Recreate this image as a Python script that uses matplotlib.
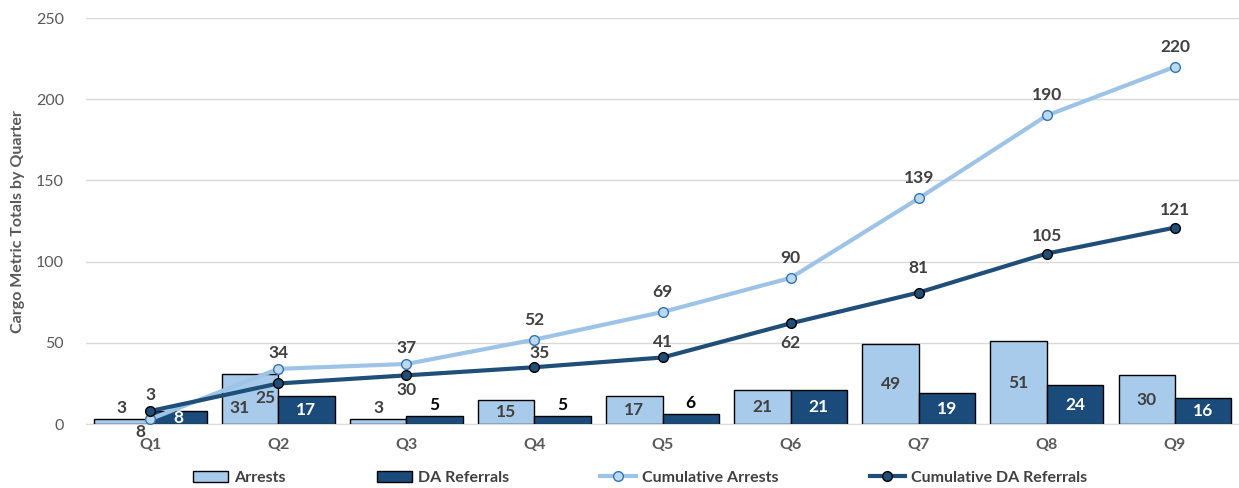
import matplotlib
matplotlib.use("Agg")
import matplotlib.pyplot as plt
import numpy as np

quarters = ["Q1", "Q2", "Q3", "Q4", "Q5", "Q6", "Q7", "Q8", "Q9"]
arrests = [3, 31, 3, 15, 17, 21, 49, 51, 30]
da_referrals = [8, 17, 5, 5, 6, 21, 19, 24, 16]
cum_arrests = [3, 34, 37, 52, 69, 90, 139, 190, 220]
cum_da = [8, 25, 30, 35, 41, 62, 81, 105, 121]

plt.rcParams['font.family'] = ['Lato', 'DejaVu Sans']

LIGHT = "#A9CBEB"
DARK = "#1B4B7B"
LINE_LIGHT = "#9DC3E6"
LINE_DARK = "#1F4E79"
GRAY = "#404040"
TICK = "#595959"

fig = plt.figure(figsize=(12.39, 4.88), dpi=100)
ax = fig.add_axes([0.0695, 0.131, 0.9305, 0.832])

x = np.arange(len(quarters))
w = 0.44
b1 = ax.bar(x - w/2, arrests, w, color=LIGHT, edgecolor="black", linewidth=1, zorder=2, label="Arrests")
b2 = ax.bar(x + w/2, da_referrals, w, color=DARK, edgecolor="black", linewidth=1, zorder=2, label="DA Referrals")

l1, = ax.plot(x, cum_arrests, color=LINE_LIGHT, lw=3, marker="o", ms=7,
              mfc="#BDD7EE", mec="#2E75B6", mew=1, zorder=3, label="Cumulative Arrests")
l2, = ax.plot(x, cum_da, color=LINE_DARK, lw=3, marker="o", ms=7,
              mfc=LINE_DARK, mec="black", mew=1, zorder=4, label="Cumulative DA Referrals")

fs = 12.5
# bar labels: arrests
for i, v in enumerate(arrests):
    if v < 8:
        ax.annotate(str(v), (x[i] - w/2, v), xytext=(0, 3), textcoords="offset pixels",
                    ha="center", va="bottom", fontsize=fs, fontweight="bold", color=GRAY, zorder=6)
    elif i == 1:
        ax.annotate(str(v), (x[i] - w/2, v / 2), xytext=(-10, -9), textcoords="offset pixels",
                    ha="center", va="center", fontsize=fs, fontweight="bold", color=GRAY, zorder=6)
    else:
        ax.text(x[i] - w/2, v / 2, str(v), ha="center", va="center", fontsize=fs,
                fontweight="bold", color=GRAY, zorder=6)
# bar labels: DA
for i, v in enumerate(da_referrals):
    if v < 8:
        ax.annotate(str(v), (x[i] + w/2, v), xytext=(0, 3), textcoords="offset pixels",
                    ha="center", va="bottom", fontsize=fs, fontweight="bold", color="black", zorder=6)
    else:
        ax.text(x[i] + w/2, v / 2, str(v), ha="center", va="center", fontsize=fs,
                fontweight="bold", color="white", zorder=6)

# cumulative labels
for i, v in enumerate(cum_arrests):
    if i == 0:
        ax.annotate(str(v), (x[i], cum_da[i]), xytext=(0, 16), textcoords="offset pixels",
                    ha="center", va="center", fontsize=fs, fontweight="bold", color=GRAY, zorder=6)
    else:
        dy = 16 if i < 3 else 20
        ax.annotate(str(v), (x[i], v), xytext=(0, dy), textcoords="offset pixels",
                    ha="center", va="center", fontsize=fs, fontweight="bold", color=GRAY, zorder=6)

cd_off = [(-10, -13), (-13, -15), (0, -15), (5, 14), (0, 15), (0, -20), (0, 25), (0, 18), (0, 18)]
for i, v in enumerate(cum_da):
    dx, dy = cd_off[i]
    ref = cum_arrests[0] if i == 0 else v
    ax.annotate(str(v), (x[i], ref), xytext=(dx, dy), textcoords="offset pixels",
                ha="center", va="center", fontsize=fs, fontweight="bold", color=GRAY, zorder=6)

ax.set_xlim(-0.5, len(quarters) - 0.5)
ax.set_ylim(0, 250)
ax.set_yticks(np.arange(0, 251, 50))
ax.set_xticks(x)
ax.set_xticklabels(quarters, fontweight="bold")
ax.tick_params(axis="y", length=0, labelsize=11.5, labelcolor=TICK, pad=16)
ax.tick_params(axis="x", length=0, labelsize=11.5, labelcolor=TICK, pad=10)
ax.yaxis.grid(True, color="#D9D9D9", lw=1, zorder=0)
ax.set_axisbelow(True)
for s in ["top", "right", "left"]:
    ax.spines[s].set_visible(False)
ax.spines["bottom"].set_color("#D9D9D9")
ax.set_ylabel("Cargo Metric Totals by Quarter", fontsize=11.5, fontweight="bold", color=TICK, labelpad=8)

leg = fig.legend(handles=[b1, b2, l1, l2], loc="center", bbox_to_anchor=(0.5165, 0.021), ncol=4,
                 frameon=False, prop={"size": 11.5, "weight": "bold"}, labelcolor=GRAY,
                 columnspacing=5.7, handlelength=2.2, handletextpad=0.4)

fig.savefig("out.png", dpi=100)
